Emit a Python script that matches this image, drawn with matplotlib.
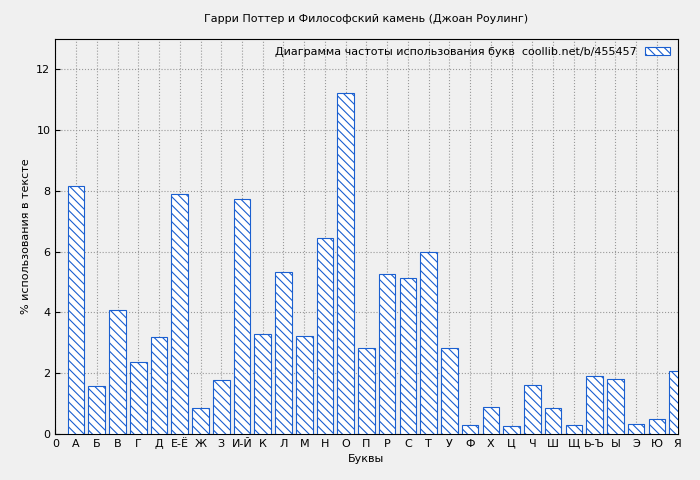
import matplotlib
matplotlib.use("Agg")
import matplotlib.pyplot as plt

letters = ["А","Б","В","Г","Д","Е-Ё","Ж","З","И-Й","К","Л","М","Н","О","П","Р","С","Т","У","Ф","Х","Ц","Ч","Ш","Щ","Ь-Ъ","Ы","Э","Ю","Я"]
values = [8.15,1.58,4.08,2.37,3.19,7.89,0.85,1.78,7.73,3.29,5.33,3.22,6.44,11.21,2.83,5.26,5.13,5.98,2.83,0.30,0.89,0.26,1.61,0.85,0.30,1.91,1.81,0.33,0.49,2.07]
tick_labels = ["0"] + letters

plt.rcParams['font.family'] = ['DejaVu Sans']
plt.rcParams['hatch.color'] = '#1a5fd0'
plt.rcParams['hatch.linewidth'] = 0.8
fig = plt.figure(figsize=(7, 4.8), dpi=100, facecolor='#f0f0f0')
ax = fig.add_axes([0.079, 0.096, 0.889, 0.823], facecolor='#f0f0f0')
pos = list(range(1, len(values) + 1))
ax.bar(pos, values, width=0.8, facecolor='white', edgecolor='#1a5fd0', hatch='\\\\\\\\',
       linewidth=0.8, label='Диаграмма частоты использования букв  coollib.net/b/455457', zorder=3)
ax.set_xlim(0, 30)
ax.set_ylim(0, 13)
ax.set_xticks(range(0, 31))
ax.set_xticklabels(tick_labels, fontsize=8)
ax.set_yticks(range(0, 13, 2))
ax.tick_params(labelsize=8, direction='in')
ax.grid(True, linestyle=':', color='#999999', linewidth=0.8, zorder=0)
ax.set_axisbelow(True)
ax.set_xlabel('Буквы', fontsize=8)
ax.set_ylabel('% использования в тексте', fontsize=8)
ax.set_title('Гарри Поттер и Философский камень (Джоан Роулинг)', fontsize=8, pad=12)
leg = ax.legend(loc='upper right', fontsize=8, frameon=False, markerfirst=False,
                handlelength=2.2, handleheight=0.7, borderaxespad=0.3)
fig.savefig('out.png', dpi=100, facecolor=fig.get_facecolor())
